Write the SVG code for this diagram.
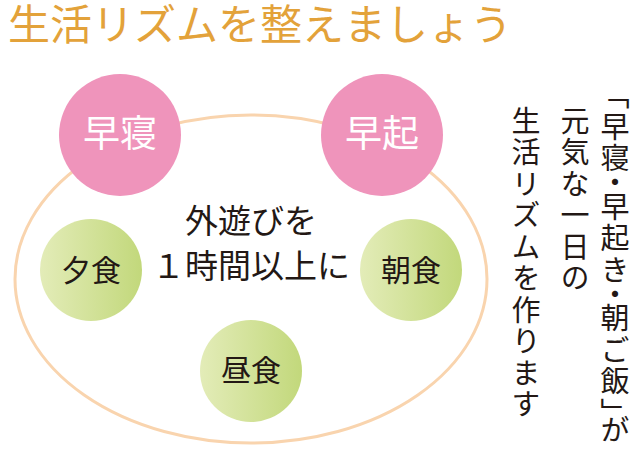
<svg xmlns="http://www.w3.org/2000/svg" width="640" height="450" viewBox="0 0 640 450">
<style>
text { font-family: "Noto Sans CJK JP", "Noto Sans CJK SC", sans-serif; }
.title { font-size: 42px; fill: #e3a23a; }
.pink { fill: #ef94bb; }
.green { fill: url(#greenGrad); }
.pinkLabel { font-size: 37px; fill: #ffffff; text-anchor: middle; }
.greenLabel { font-size: 30px; fill: #231815; text-anchor: middle; }
.center { font-size: 33px; fill: #231815; text-anchor: middle; }
.vert { font-size: 29px; fill: #231815; writing-mode: vertical-rl; letter-spacing: 2.5px; }
.half { font-feature-settings: "vhal" 1; }
.ring { fill: none; stroke: #f9d4ae; stroke-width: 3; }
</style>
<defs>
<linearGradient id="greenGrad" x1="0" y1="0" x2="1" y2="0">
<stop offset="0" stop-color="#e3ecb8"/>
<stop offset="1" stop-color="#c2d87b"/>
</linearGradient>
</defs>
<rect width="640" height="450" fill="#ffffff"/>
<text id="title" class="title" x="8" y="40">生活リズムを整えましょう</text>
<g id="connectors">
<ellipse class="ring" cx="251" cy="279" rx="236" ry="164"/>
</g>
<g id="node-hayane">
<circle class="pink" cx="120" cy="135" r="61"/>
<text class="pinkLabel" x="120" y="147">早寝</text>
</g>
<g id="node-hayaoki">
<circle class="pink" cx="382" cy="135" r="61"/>
<text class="pinkLabel" x="382" y="147">早起</text>
</g>
<g id="node-yushoku">
<circle class="green" cx="91" cy="270" r="51"/>
<text class="greenLabel" x="91" y="281">夕食</text>
</g>
<g id="node-choshoku">
<circle class="green" cx="411" cy="270" r="51"/>
<text class="greenLabel" x="411" y="281">朝食</text>
</g>
<g id="node-chushoku">
<circle class="green" cx="251" cy="371" r="51"/>
<text class="greenLabel" x="251" y="381">昼食</text>
</g>
<g id="node-center">
<text class="center" x="251" y="233">外遊びを</text>
<text class="center" x="251" y="278">１時間以上に</text>
</g>
<g id="caption">
<text class="vert" x="615" y="95"><tspan class="half">「</tspan>早寝<tspan class="half">・</tspan>早起き<tspan class="half">・</tspan>朝ご飯<tspan class="half">」</tspan>が</text>
<text class="vert" x="575" y="106">元気な一日の</text>
<text class="vert" x="526" y="106">生活リズムを作ります</text>
</g>
</svg>
